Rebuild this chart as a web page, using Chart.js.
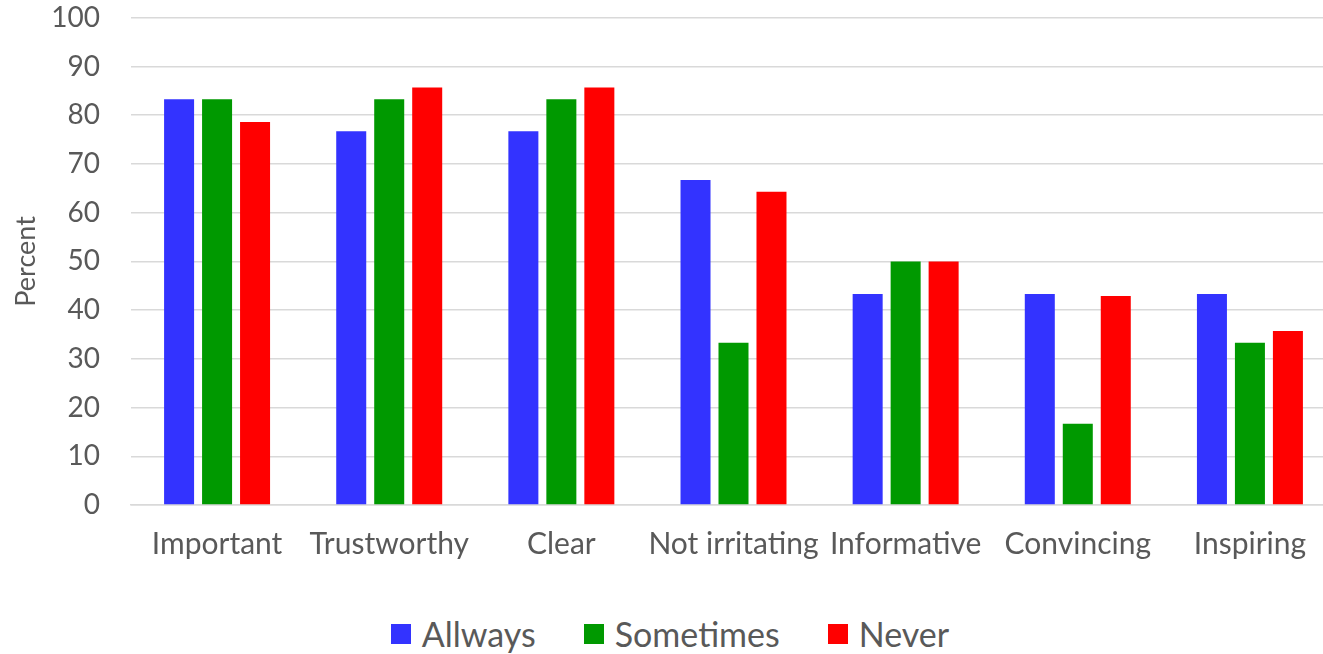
<!DOCTYPE html>
<html>
<head>
<meta charset="utf-8">
<script src="https://cdn.jsdelivr.net/npm/chart.js@4.4.1/dist/chart.umd.min.js"></script>
<style>
  html, body { margin: 0; padding: 0; background: #ffffff; overflow: hidden; }
  #wrap { position: relative; width: 1323px; height: 654px; overflow: hidden; }
  #chartBox { position: absolute; left: 0; top: -30px; width: 1340px; height: 630px; }
  #legend { position: absolute; top: 612px; left: 0; width: 1340px; display: flex; justify-content: center;
            font-family: Lato, "Open Sans", sans-serif; font-size: 34px; color: #595959; line-height: 44px; }
  .item { display: flex; align-items: center; margin: 0 24px; }
  .sw { width: 20px; height: 20px; margin-right: 11px; }
</style>
</head>
<body>
<div id="wrap">
  <div id="chartBox"><canvas id="c"></canvas></div>
  <div id="legend"></div>
</div>
<script>
const categories = ["Important", "Trustworthy", "Clear", "Not irritating", "Informative", "Convincing", "Inspiring"];
const seriesNames = ["Allways", "Sometimes", "Never"];
const allways   = [83.3, 76.7, 76.7, 66.7, 43.3, 43.3, 43.3];
const sometimes = [83.3, 83.3, 83.3, 33.3, 50.0, 16.7, 33.3];
const never     = [78.6, 85.7, 85.7, 64.3, 50.0, 42.9, 35.7];
const colors = ["#3333ff", "#009900", "#ff0000"];
const yTicks = [0, 10, 20, 30, 40, 50, 60, 70, 80, 90, 100];

const FONT = 'Lato, "Open Sans", sans-serif';
const GREY = "#595959";

const seriesValues = [allways, sometimes, never];
const datasets = seriesNames.map((name, i) => ({
  label: name,
  data: seriesValues[i],
  backgroundColor: colors[i],
  borderWidth: 0,
  barPercentage: 0.79,
  categoryPercentage: 0.662
}));

new Chart(document.getElementById("c"), {
  type: "bar",
  data: { labels: categories, datasets },
  options: {
    responsive: true,
    maintainAspectRatio: false,
    animation: false,
    layout: { padding: { left: 0, right: 4, top: 17, bottom: 0 } },
    plugins: { legend: { display: false }, tooltip: { enabled: false } },
    scales: {
      x: {
        grid: { display: false, drawTicks: false },
        border: { display: true, color: "#d9d9d9", width: 1.5 },
        ticks: { color: GREY, font: { family: FONT, size: 30 }, padding: 21, maxRotation: 0, autoSkip: false },
        afterFit(scale) { scale.height = 95; }
      },
      y: {
        min: 0, max: 100,
        afterBuildTicks(scale) { scale.ticks = yTicks.map(v => ({ value: v })); },
        grid: { color: "#d9d9d9", lineWidth: 1.5, drawTicks: false },
        border: { display: false },
        ticks: { color: GREY, font: { family: FONT, size: 28 }, padding: 31 },
        title: { display: true, text: "Percent", color: GREY, font: { family: FONT, size: 27 }, padding: { top: 10, bottom: 0 } },
        afterFit(scale) { scale.width = 131; }
      }
    }
  }
});

const legend = document.getElementById("legend");
seriesNames.forEach((name, i) => {
  const item = document.createElement("div");
  item.className = "item";
  const sw = document.createElement("span");
  sw.className = "sw";
  sw.style.background = colors[i];
  const t = document.createElement("span");
  t.textContent = name;
  item.appendChild(sw);
  item.appendChild(t);
  legend.appendChild(item);
});
</script>
</body>
</html>
